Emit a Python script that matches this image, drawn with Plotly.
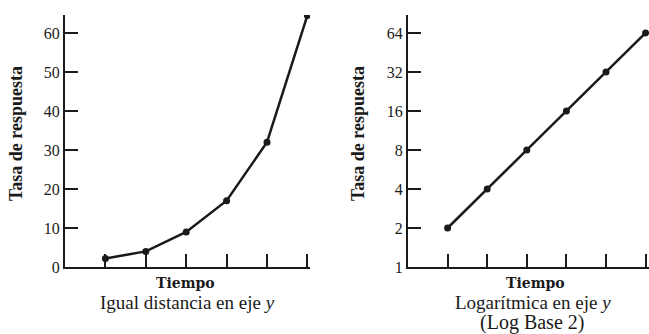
import plotly.graph_objects as go
import math

tiempo = [1, 2, 3, 4, 5, 6]
tasa_lineal = [2.2, 4, 9, 17, 32, 64.5]
tasa_log = [2, 4, 8, 16, 32, 64]
ticks_lineal = [0, 10, 20, 30, 40, 50, 60]
ticks_log = [1, 2, 4, 8, 16, 32, 64]

W, H = 649, 343
K = H / 334.0  # vertical compensation
FONT = "Liberation Serif, Times New Roman, serif"
INK = "#1a1a1a"

fig = go.Figure()
fig.add_trace(go.Scatter(x=tiempo, y=tasa_lineal, mode="lines+markers",
                         line=dict(color=INK, width=2.5), marker=dict(size=7, color=INK),
                         xaxis="x", yaxis="y", showlegend=False))
fig.add_trace(go.Scatter(x=tiempo, y=tasa_log, mode="lines+markers",
                         line=dict(color=INK, width=2.5), marker=dict(size=7, color=INK),
                         xaxis="x2", yaxis="y2", showlegend=False))

ydom = [1 - 267 * K / H, 1 - 15 * K / H]
common_x = dict(showgrid=False, zeroline=False, showline=True, linecolor=INK, linewidth=2,
                ticks="inside", ticklen=13, tickwidth=2, tickcolor=INK,
                tickvals=tiempo, showticklabels=False)
common_y = dict(showgrid=False, zeroline=False, showline=True, linecolor=INK, linewidth=2,
                ticks="inside", ticklen=13, tickwidth=2, tickcolor=INK,
                tickfont=dict(family=FONT, size=16, color=INK))

fig.update_layout(
    width=W, height=H, margin=dict(l=0, r=0, t=0, b=0),
    paper_bgcolor="white", plot_bgcolor="white",
    xaxis=dict(domain=[65 / W, 310 / W], range=[0, 245 / 40.4], anchor="y", **common_x),
    yaxis=dict(domain=ydom, range=[0, 64.6], tickvals=ticks_lineal, anchor="x", **common_y),
    xaxis2=dict(domain=[408 / W, 1.0], range=[0, 241 / 39.6], anchor="y2", **common_x),
    yaxis2=dict(domain=ydom, type="log", range=[0, 6.46 * math.log10(2)],
                tickvals=ticks_log, ticktext=[str(v) for v in ticks_log], anchor="x2", **common_y),
)

def ann(x, y, text, size, family=FONT, angle=0):
    fig.add_annotation(x=x / W, y=1 - y * K / H, xref="paper", yref="paper", text=text,
                       showarrow=False, textangle=angle, xanchor="center", yanchor="middle",
                       font=dict(family=family, size=size, color=INK))

ann(16, 134, "<b>Tasa de respuesta</b>", 18, angle=-90)
ann(358, 134, "<b>Tasa de respuesta</b>", 18, angle=-90)
ann(186, 283, "<b>Tiempo</b>", 14, family="DejaVu Serif")
ann(535, 283, "<b>Tiempo</b>", 14, family="DejaVu Serif")
ann(187, 303, "Igual distancia en eje <i>y</i>", 19)
ann(533, 303, "Logarítmica en eje <i>y</i>", 19)
ann(532, 323, "(Log Base 2)", 20)

post = ("document.body.style.margin='0';"
        "var gd=document.getElementById('{plot_id}');"
        "var p=gd.parentElement;p.style.position='fixed';p.style.top='0';p.style.left='0';"
        "document.documentElement.style.overflow='hidden';document.body.style.overflow='hidden';")
fig.write_html("out.html", post_script=post, config={"displayModeBar": False})
